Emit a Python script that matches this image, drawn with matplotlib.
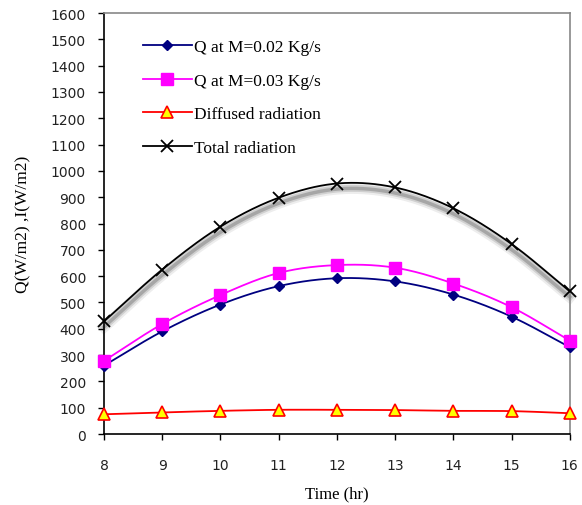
import matplotlib.pyplot as plt
import matplotlib.patheffects as pe
import numpy as np

plt.rcParams['font.family'] = ['Liberation Serif']

# data
hours = [8, 9, 10, 11, 12, 13, 14, 15, 16]
q_002 = [260, 390, 492, 562, 592, 580, 530, 446, 330]
q_003 = [278, 418, 528, 612, 642, 632, 572, 482, 355]
diffused = [75, 82, 88, 92, 92, 91, 88, 87, 79]
total = [428, 625, 788, 898, 952, 937, 858, 722, 542]
yticks = list(range(0, 1700, 100))


def smooth(x, y, n=30):
    # catmull-rom, roughly like excel's smoothed line
    x = np.asarray(x, float)
    y = np.asarray(y, float)
    px = np.concatenate([[2 * x[0] - x[1]], x, [2 * x[-1] - x[-2]]])
    py = np.concatenate([[2 * y[0] - y[1]], y, [2 * y[-1] - y[-2]]])
    xs, ys = [], []
    t = np.linspace(0, 1, n)
    for i in range(1, len(px) - 2):
        for p, out in ((px, xs), (py, ys)):
            p0, p1, p2, p3 = p[i - 1], p[i], p[i + 1], p[i + 2]
            out.extend(0.5 * ((2 * p1) + (-p0 + p2) * t
                              + (2 * p0 - 5 * p1 + 4 * p2 - p3) * t ** 2
                              + (-p0 + 3 * p1 - 3 * p2 + p3) * t ** 3))
    return np.array(xs), np.array(ys)


shadow = [pe.SimpleLineShadow(offset=(0, -4), shadow_color='k', alpha=0.07, linewidth=8),
          pe.SimpleLineShadow(offset=(0, -4), shadow_color='k', alpha=0.12, linewidth=5),
          pe.SimpleLineShadow(offset=(0, -4), shadow_color='k', alpha=0.2, linewidth=2.5),
          pe.Normal()]

fig = plt.figure(figsize=(5.82, 5.06), dpi=100)
ax = fig.add_axes([0.1787, 0.1403, 0.8003, 0.832])

series = [
    (q_002, '#000080', dict(marker='D', markersize=5.5, markerfacecolor='#000080', markeredgecolor='#000080'), 'Q at M=0.02 Kg/s', None),
    (q_003, '#FF00FF', dict(marker='s', markersize=8.5, markerfacecolor='#FF00FF', markeredgecolor='#FF00FF'), 'Q at M=0.03 Kg/s', None),
    (diffused, '#FF0000', dict(marker='^', markersize=9, markerfacecolor='#FFFF00', markeredgecolor='#FF0000', markeredgewidth=1.2), 'Diffused radiation', None),
    (total, 'black', dict(marker='x', markersize=8, markeredgecolor='black', markeredgewidth=1.3), 'Total radiation', shadow),
]

handles = []
for vals, col, mk, lab, eff in series:
    sx, sy = smooth(hours, vals)
    ax.plot(sx, sy, color=col, lw=1.3, path_effects=eff, zorder=2, clip_on=False)
    ax.plot(hours, vals, linestyle='none', zorder=3, clip_on=False, **mk)
    h, = ax.plot([], [], color=col, lw=1.3, label=lab, **mk)
    handles.append(h)

ax.set_xlim(8, 16)
ax.set_ylim(0, 1600)
ax.set_xticks(hours)
ax.set_yticks(yticks)
for lab in ax.get_xticklabels() + ax.get_yticklabels():
    lab.set_fontfamily('DejaVu Sans')
    lab.set_fontsize(10)
ax.tick_params(axis='both', direction='out', length=4, width=1, color='black', colors='#222222')
ax.tick_params(axis='x', pad=13)
ax.tick_params(axis='y', pad=9)

ax.spines['left'].set_color('black')
ax.spines['bottom'].set_color('black')
ax.spines['top'].set_color('#888888')
ax.spines['right'].set_color('#888888')
for s in ax.spines.values():
    s.set_linewidth(1.2)

ax.set_xlabel('Time (hr)', fontsize=12, labelpad=10)
ax.set_ylabel('Q(W/m2) ,I(W/m2)', fontsize=12.5, labelpad=14)

ax.legend(handles=handles, loc='upper left', bbox_to_anchor=(0.05, 0.975), frameon=False,
          fontsize=12.5, labelspacing=1.0, handlelength=2.8, handletextpad=0.15)

plt.savefig('out.png', dpi=100)
